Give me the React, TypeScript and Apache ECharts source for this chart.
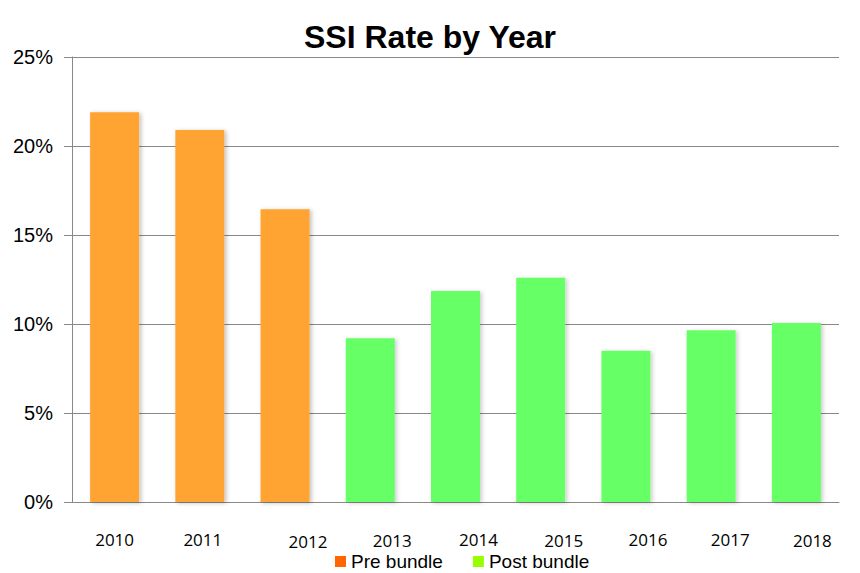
import React, { useEffect, useRef } from "react";
import * as echarts from "echarts";

const years = ["2010", "2011", "2012", "2013", "2014", "2015", "2016", "2017", "2018"];
const preBundle = [21.9, 20.9, 16.45, null, null, null, null, null, null];
const postBundle = [null, null, null, 9.2, 11.85, 12.6, 8.5, 9.65, 10.05];
const yTicks = [0, 5, 10, 15, 20, 25];

// label layout tweaks (px) to mimic the reference's uneven label placement
const labelDx = [0, 3, 23, 22, 23, 23, 22, 19, 16];
const labelDy = [0, 0, 4, 1, 0, 1, 0, 0, 2];

export default function App() {
  const ref = useRef<HTMLDivElement>(null);
  useEffect(() => {
    if (!ref.current) return;
    const chart = echarts.init(ref.current, null, { renderer: "svg" });
    const rich: Record<string, any> = {};
    years.forEach((_, i) => {
      rich["s" + i] = {
        fontFamily: "Open Sans",
        fontSize: 17,
        lineHeight: 13,
        color: "#000",
        padding: [labelDy[i], 0, 0, labelDx[i] * 2],
      };
    });
    chart.setOption({
      animation: false,
      backgroundColor: "#fff",
      title: {
        text: "SSI Rate by Year",
        left: "center",
        top: 16,
        textStyle: { fontFamily: "Liberation Sans", fontWeight: "bold", fontSize: 32, color: "#000" },
      },
      legend: {
        top: 547,
        left: 330,
        icon: "rect",
        itemWidth: 11,
        itemHeight: 11,
        itemGap: 30,
        textStyle: { fontFamily: "Liberation Sans", fontSize: 19, lineHeight: 13, color: "#000" },
        data: [
          { name: "Pre bundle", itemStyle: { color: "#FF6600" } },
          { name: "Post bundle", itemStyle: { color: "#99FF00" } },
        ],
      },
      grid: { left: 72, right: 21, top: 57, bottom: 71, containLabel: false },
      xAxis: {
        type: "category",
        data: years,
        axisLine: { lineStyle: { color: "#888", width: 1 } },
        axisTick: { show: false },
        axisLabel: {
          margin: 31,
          formatter: (v: string, i: number) => `{s${i}|${v}}`,
          rich,
        },
      },
      yAxis: {
        type: "value",
        min: yTicks[0],
        max: yTicks[yTicks.length - 1],
        interval: 5,
        axisLine: { show: true, lineStyle: { color: "#888", width: 1 } },
        axisTick: { show: true, length: 8, lineStyle: { color: "#888" } },
        splitLine: { lineStyle: { color: "#888", width: 1 } },
        axisLabel: {
          margin: 19,
          formatter: (v: number) => v + "%",
          fontFamily: "Liberation Sans",
          fontSize: 20,
          color: "#000",
        },
      },
      series: [
        {
          name: "Pre bundle",
          type: "bar",
          stack: "s",
          data: preBundle,
          barWidth: 49,
          itemStyle: {
            color: "#FFA333",
            shadowBlur: 4,
            shadowColor: "rgba(0,0,0,0.25)",
            shadowOffsetX: 2,
            shadowOffsetY: 1,
          },
        },
        {
          name: "Post bundle",
          type: "bar",
          stack: "s",
          data: postBundle,
          barWidth: 49,
          itemStyle: {
            color: "#66FF66",
            shadowBlur: 4,
            shadowColor: "rgba(0,0,0,0.2)",
            shadowOffsetX: 2,
            shadowOffsetY: 1,
          },
        },
      ],
    });
    return () => chart.dispose();
  }, []);
  return (
    <div
      ref={ref}
      style={{ position: "fixed", left: 0, top: 0, width: 860, height: 573, background: "#fff" }}
    />
  );
}
